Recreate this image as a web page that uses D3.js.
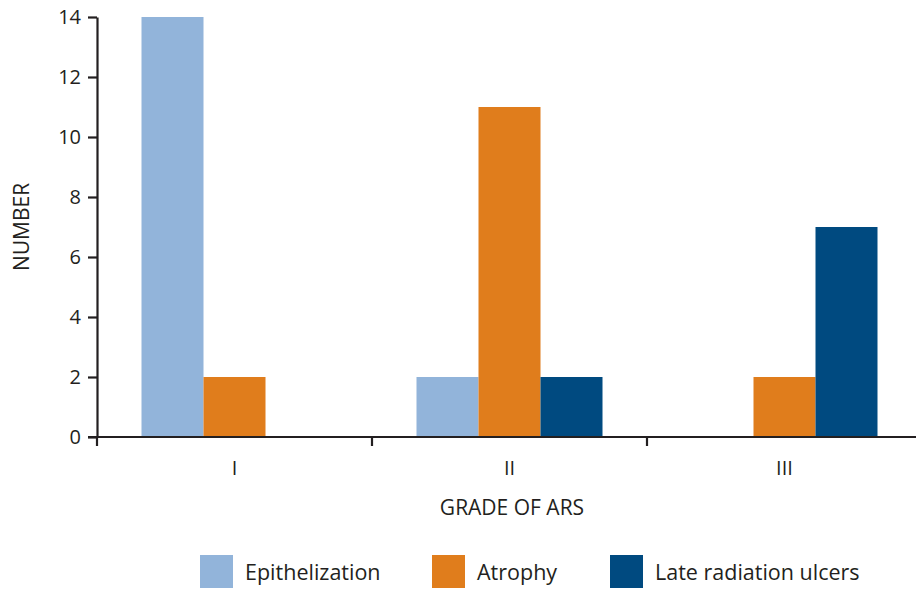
<!DOCTYPE html>
<html>
<head>
<meta charset="utf-8">
<script src="https://cdn.jsdelivr.net/npm/d3@7"></script>
<style>
body { margin: 0; background: #fff; }
svg text { font-family: "Open Sans", "Noto Sans", sans-serif; fill: #231f20; }
</style>
</head>
<body>
<script>
let grades = ["I", "II", "III"];
let seriesNames = ["Epithelization", "Atrophy", "Late radiation ulcers"];
let epithelization = [14, 2, 0];
let atrophy = [2, 11, 2];
let ulcers = [0, 2, 7];
let yTicks = [0, 2, 4, 6, 8, 10, 12, 14];
let colors = ["#92b4da", "#e07d1c", "#004a80"];

run();

function run() {
    let width = 916, height = 590;
    let left = 97, top = 17, bottom = 437, right = 922;

    let svg = d3.select("body").append("svg")
        .attr("width", width)
        .attr("height", height);

    let table = grades.map(function (g, i) {
        return { grade: g, values: [epithelization[i], atrophy[i], ulcers[i]] };
    });

    let x0 = d3.scaleBand().domain(grades).range([left, right]);
    let x1 = d3.scaleBand().domain(d3.range(seriesNames.length))
        .range([44.5, x0.bandwidth() - 44.5]);
    let y = d3.scaleLinear().domain([0, 14]).range([bottom, top]);

    // bars
    let groups = svg.append("g").selectAll("g")
        .data(table)
        .enter().append("g")
        .attr("transform", function (d) { return "translate(" + x0(d.grade) + ",0)"; });

    groups.selectAll("rect")
        .data(function (d) { return d.values; })
        .enter().append("rect")
        .attr("x", function (d, i) { return x1(i); })
        .attr("width", x1.bandwidth())
        .attr("y", function (d) { return y(d); })
        .attr("height", function (d) { return bottom - y(d); })
        .attr("fill", function (d, i) { return colors[i]; });

    // y axis
    let yAxis = svg.append("g")
        .attr("transform", "translate(" + left + ",0)")
        .call(d3.axisLeft(y).tickValues(yTicks).tickSize(9).tickPadding(7).tickSizeOuter(0));
    yAxis.select(".domain").attr("stroke", "#231f20").attr("stroke-width", 2.2);
    yAxis.selectAll(".tick line").attr("stroke", "#231f20").attr("stroke-width", 2.2);
    yAxis.selectAll(".tick text").attr("font-size", 20).style("fill", "#231f20");

    // x axis, ticks on band edges
    let xAxis = svg.append("g")
        .attr("transform", "translate(0," + bottom + ")");
    xAxis.append("line")
        .attr("x1", left - 9).attr("x2", width)
        .attr("stroke", "#231f20").attr("stroke-width", 2.2);
    xAxis.selectAll(".edge")
        .data(grades)
        .enter().append("line")
        .attr("class", "edge")
        .attr("x1", function (d) { return x0(d); })
        .attr("x2", function (d) { return x0(d); })
        .attr("y1", 0).attr("y2", 9)
        .attr("stroke", "#231f20").attr("stroke-width", 2.2);
    xAxis.selectAll(".lab")
        .data(grades)
        .enter().append("text")
        .attr("class", "lab")
        .attr("x", function (d) { return x0(d) + x0.bandwidth() / 2; })
        .attr("y", 38)
        .attr("text-anchor", "middle")
        .attr("font-size", 20)
        .text(function (d) { return d; });

    // axis titles
    svg.append("text")
        .attr("x", 512).attr("y", 515)
        .attr("text-anchor", "middle")
        .attr("font-size", 21)
        .text("GRADE OF ARS");
    svg.append("text")
        .attr("transform", "translate(29,227) rotate(-90)")
        .attr("text-anchor", "middle")
        .attr("font-size", 21)
        .text("NUMBER");

    // legend
    let legendX = [200, 432, 610];
    let legend = svg.append("g").selectAll("g")
        .data(seriesNames)
        .enter().append("g")
        .attr("transform", function (d, i) { return "translate(" + legendX[i] + ",555)"; });
    legend.append("rect")
        .attr("width", 33).attr("height", 33)
        .attr("fill", function (d, i) { return colors[i]; });
    legend.append("text")
        .attr("x", 45).attr("y", 25)
        .attr("font-size", 21.5)
        .text(function (d) { return d; });
}
</script>
</body>
</html>
